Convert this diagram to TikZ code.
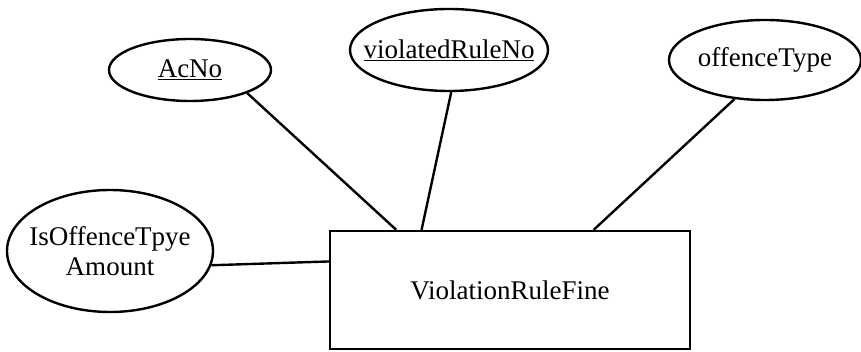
\documentclass[tikz,border=0pt]{standalone}
\usepackage{fontspec}
\setmainfont{Liberation Serif}
\usetikzlibrary{shapes.geometric,calc}
\begin{document}
\begin{tikzpicture}[x=1pt,y=-1pt,
  every node/.style={font=\fontsize{27}{30}\selectfont},
  attr/.style={draw,ellipse,line width=2.4pt,inner sep=0pt},
  entity/.style={draw,rectangle,line width=2.4pt,inner sep=0pt,minimum width=360pt,minimum height=118pt},
  link/.style={line width=2.4pt}]
\useasboundingbox (0,0) rectangle (861,352);
\node[entity] (e) at (510,290) {ViolationRuleFine};
\node[attr,minimum width=162pt,minimum height=62pt,label={center:\underline{AcNo}}] (a) at (190,70) {};
\node[attr,minimum width=198pt,minimum height=82pt,label={center:\underline{violatedRuleNo}}] (v) at (449,50) {};
\node[attr,minimum width=192pt,minimum height=80pt,label={center:offenceType}] (o) at (765,60) {};
\node[attr,minimum width=206pt,minimum height=122pt,label={[align=center]center:IsOffenceTpye\\Amount}] (i) at (110,251) {};
\draw[link] (a.-22) -- ($(e.north west)!0.186!(e.north east)$);
\draw[link] (v.-87) -- ($(e.north west)!0.256!(e.north east)$);
\draw[link] (o.-128.7) -- ($(e.north west)!0.731!(e.north east)$);
\draw[link] (i.-8.7) -- ($(e.north west)!0.263!(e.south west)$);
\end{tikzpicture}
\end{document}
